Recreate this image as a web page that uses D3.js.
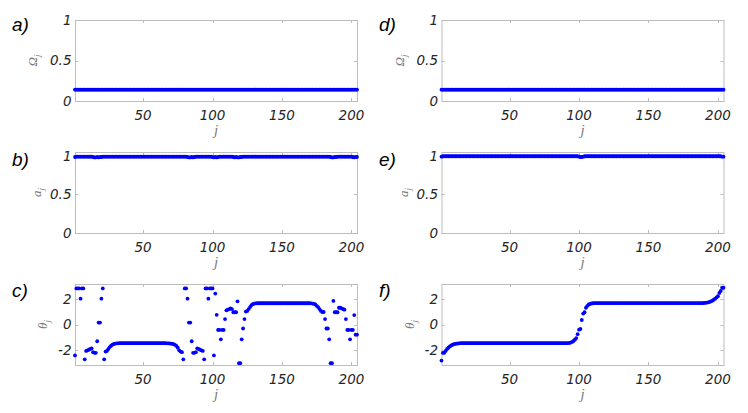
<!DOCTYPE html>
<html>
<head>
<meta charset="utf-8">
<script src="https://cdn.jsdelivr.net/npm/d3@7"></script>
<style>
  body { margin: 0; background: #fff; }
  svg { display: block; }
</style>
</head>
<body>
<svg id="chart"></svg>
<script>
// Values, one per site j = 1..204

// a) / d)  Omega_j
const omegaLeft = [
  0.14, 0.14, 0.14, 0.14, 0.14, 0.14, 0.14, 0.14, 0.14, 0.14, 0.14, 0.14,
  0.14, 0.14, 0.14, 0.14, 0.14, 0.14, 0.14, 0.14, 0.14, 0.14, 0.14, 0.14,
  0.14, 0.14, 0.14, 0.14, 0.14, 0.14, 0.14, 0.14, 0.14, 0.14, 0.14, 0.14,
  0.14, 0.14, 0.14, 0.14, 0.14, 0.14, 0.14, 0.14, 0.14, 0.14, 0.14, 0.14,
  0.14, 0.14, 0.14, 0.14, 0.14, 0.14, 0.14, 0.14, 0.14, 0.14, 0.14, 0.14,
  0.14, 0.14, 0.14, 0.14, 0.14, 0.14, 0.14, 0.14, 0.14, 0.14, 0.14, 0.14,
  0.14, 0.14, 0.14, 0.14, 0.14, 0.14, 0.14, 0.14, 0.14, 0.14, 0.14, 0.14,
  0.14, 0.14, 0.14, 0.14, 0.14, 0.14, 0.14, 0.14, 0.14, 0.14, 0.14, 0.14,
  0.14, 0.14, 0.14, 0.14, 0.14, 0.14, 0.14, 0.14, 0.14, 0.14, 0.14, 0.14,
  0.14, 0.14, 0.14, 0.14, 0.14, 0.14, 0.14, 0.14, 0.14, 0.14, 0.14, 0.14,
  0.14, 0.14, 0.14, 0.14, 0.14, 0.14, 0.14, 0.14, 0.14, 0.14, 0.14, 0.14,
  0.14, 0.14, 0.14, 0.14, 0.14, 0.14, 0.14, 0.14, 0.14, 0.14, 0.14, 0.14,
  0.14, 0.14, 0.14, 0.14, 0.14, 0.14, 0.14, 0.14, 0.14, 0.14, 0.14, 0.14,
  0.14, 0.14, 0.14, 0.14, 0.14, 0.14, 0.14, 0.14, 0.14, 0.14, 0.14, 0.14,
  0.14, 0.14, 0.14, 0.14, 0.14, 0.14, 0.14, 0.14, 0.14, 0.14, 0.14, 0.14,
  0.14, 0.14, 0.14, 0.14, 0.14, 0.14, 0.14, 0.14, 0.14, 0.14, 0.14, 0.14,
  0.14, 0.14, 0.14, 0.14, 0.14, 0.14, 0.14, 0.14, 0.14, 0.14, 0.14, 0.14
];
const omegaRight = [
  0.14, 0.14, 0.14, 0.14, 0.14, 0.14, 0.14, 0.14, 0.14, 0.14, 0.14, 0.14,
  0.14, 0.14, 0.14, 0.14, 0.14, 0.14, 0.14, 0.14, 0.14, 0.14, 0.14, 0.14,
  0.14, 0.14, 0.14, 0.14, 0.14, 0.14, 0.14, 0.14, 0.14, 0.14, 0.14, 0.14,
  0.14, 0.14, 0.14, 0.14, 0.14, 0.14, 0.14, 0.14, 0.14, 0.14, 0.14, 0.14,
  0.14, 0.14, 0.14, 0.14, 0.14, 0.14, 0.14, 0.14, 0.14, 0.14, 0.14, 0.14,
  0.14, 0.14, 0.14, 0.14, 0.14, 0.14, 0.14, 0.14, 0.14, 0.14, 0.14, 0.14,
  0.14, 0.14, 0.14, 0.14, 0.14, 0.14, 0.14, 0.14, 0.14, 0.14, 0.14, 0.14,
  0.14, 0.14, 0.14, 0.14, 0.14, 0.14, 0.14, 0.14, 0.14, 0.14, 0.14, 0.14,
  0.14, 0.14, 0.14, 0.14, 0.14, 0.14, 0.14, 0.14, 0.14, 0.14, 0.14, 0.14,
  0.14, 0.14, 0.14, 0.14, 0.14, 0.14, 0.14, 0.14, 0.14, 0.14, 0.14, 0.14,
  0.14, 0.14, 0.14, 0.14, 0.14, 0.14, 0.14, 0.14, 0.14, 0.14, 0.14, 0.14,
  0.14, 0.14, 0.14, 0.14, 0.14, 0.14, 0.14, 0.14, 0.14, 0.14, 0.14, 0.14,
  0.14, 0.14, 0.14, 0.14, 0.14, 0.14, 0.14, 0.14, 0.14, 0.14, 0.14, 0.14,
  0.14, 0.14, 0.14, 0.14, 0.14, 0.14, 0.14, 0.14, 0.14, 0.14, 0.14, 0.14,
  0.14, 0.14, 0.14, 0.14, 0.14, 0.14, 0.14, 0.14, 0.14, 0.14, 0.14, 0.14,
  0.14, 0.14, 0.14, 0.14, 0.14, 0.14, 0.14, 0.14, 0.14, 0.14, 0.14, 0.14,
  0.14, 0.14, 0.14, 0.14, 0.14, 0.14, 0.14, 0.14, 0.14, 0.14, 0.14, 0.14
];

// b) / e)  a_j
const aLeft = [
  0.985, 0.99, 0.99, 0.99, 0.99, 0.99, 0.99, 0.99, 0.99, 0.99,          // 1-10
  0.99, 0.99, 0.99, 0.985, 0.98, 0.98, 0.985, 0.98, 0.985, 0.985,       // 11-20
  0.99, 0.99, 0.99, 0.99, 0.99, 0.99, 0.99, 0.99, 0.99, 0.99,           // 21-30
  0.99, 0.99, 0.99, 0.99, 0.99, 0.99, 0.99, 0.99, 0.99, 0.99,           // 31-40
  0.99, 0.99, 0.99, 0.99, 0.99, 0.99, 0.99, 0.99, 0.99, 0.99,           // 41-50
  0.99, 0.99, 0.99, 0.99, 0.99, 0.99, 0.99, 0.99, 0.99, 0.99,           // 51-60
  0.99, 0.99, 0.99, 0.99, 0.99, 0.99, 0.99, 0.99, 0.99, 0.99,           // 61-70
  0.99, 0.99, 0.99, 0.99, 0.99, 0.99, 0.99, 0.99, 0.99, 0.99,           // 71-80
  0.99, 0.985, 0.98, 0.98, 0.985, 0.98, 0.985, 0.99, 0.99, 0.99,        // 81-90
  0.99, 0.99, 0.99, 0.99, 0.99, 0.99, 0.99, 0.99, 0.99, 0.985,          // 91-100
  0.98, 0.985, 0.98, 0.985, 0.99, 0.99, 0.99, 0.99, 0.99, 0.99,         // 101-110
  0.99, 0.99, 0.99, 0.99, 0.985, 0.98, 0.985, 0.98, 0.98, 0.985,        // 111-120
  0.985, 0.99, 0.99, 0.99, 0.99, 0.99, 0.99, 0.99, 0.99, 0.99,          // 121-130
  0.99, 0.99, 0.99, 0.99, 0.99, 0.99, 0.99, 0.99, 0.99, 0.99,           // 131-140
  0.99, 0.99, 0.99, 0.99, 0.99, 0.99, 0.99, 0.99, 0.99, 0.99,           // 141-150
  0.99, 0.99, 0.99, 0.99, 0.99, 0.99, 0.99, 0.99, 0.99, 0.99,           // 151-160
  0.99, 0.99, 0.99, 0.99, 0.99, 0.99, 0.99, 0.99, 0.99, 0.99,           // 161-170
  0.99, 0.99, 0.99, 0.99, 0.99, 0.99, 0.99, 0.99, 0.99, 0.99,           // 171-180
  0.99, 0.99, 0.99, 0.99, 0.985, 0.98, 0.98, 0.985, 0.985, 0.99,        // 181-190
  0.99, 0.99, 0.99, 0.99, 0.99, 0.99, 0.99, 0.99, 0.99, 0.99,           // 191-200
  0.985, 0.98, 0.985, 0.985                                             // 201-204
];
const aRight = [
  0.99, 0.995, 0.995, 0.995, 0.995, 0.995, 0.995, 0.995, 0.995, 0.995,  // 1-10
  0.995, 0.995, 0.995, 0.995, 0.995, 0.995, 0.995, 0.995, 0.995, 0.995,
  0.995, 0.995, 0.995, 0.995, 0.995, 0.995, 0.995, 0.995, 0.995, 0.995,
  0.995, 0.995, 0.995, 0.995, 0.995, 0.995, 0.995, 0.995, 0.995, 0.995,
  0.995, 0.995, 0.995, 0.995, 0.995, 0.995, 0.995, 0.995, 0.995, 0.995,
  0.995, 0.995, 0.995, 0.995, 0.995, 0.995, 0.995, 0.995, 0.995, 0.995,
  0.995, 0.995, 0.995, 0.995, 0.995, 0.995, 0.995, 0.995, 0.995, 0.995,
  0.995, 0.995, 0.995, 0.995, 0.995, 0.995, 0.995, 0.995, 0.995, 0.995,
  0.995, 0.995, 0.995, 0.995, 0.995, 0.995, 0.995, 0.995, 0.995, 0.995,
  0.995, 0.995, 0.995, 0.995, 0.995, 0.995, 0.995, 0.995, 0.995, 0.99,  // 91-100
  0.985, 0.985, 0.99, 0.995, 0.995, 0.995, 0.995, 0.995, 0.995, 0.995,  // 101-110
  0.995, 0.995, 0.995, 0.995, 0.995, 0.995, 0.995, 0.995, 0.995, 0.995,
  0.995, 0.995, 0.995, 0.995, 0.995, 0.995, 0.995, 0.995, 0.995, 0.995,
  0.995, 0.995, 0.995, 0.995, 0.995, 0.995, 0.995, 0.995, 0.995, 0.995,
  0.995, 0.995, 0.995, 0.995, 0.995, 0.995, 0.995, 0.995, 0.995, 0.995,
  0.995, 0.995, 0.995, 0.995, 0.995, 0.995, 0.995, 0.995, 0.995, 0.995,
  0.995, 0.995, 0.995, 0.995, 0.995, 0.995, 0.995, 0.995, 0.995, 0.995,
  0.995, 0.995, 0.995, 0.995, 0.995, 0.995, 0.995, 0.995, 0.995, 0.995,
  0.995, 0.995, 0.995, 0.995, 0.995, 0.995, 0.995, 0.995, 0.995, 0.995,
  0.995, 0.995, 0.995, 0.995, 0.995, 0.995, 0.995, 0.995, 0.995, 0.995, // 191-200
  0.995, 0.995, 0.99, 0.99                                              // 201-204
];

// c) / f)  theta_j
const thetaLeft = [
  -2.4, 2.8, 2.8, 2.8, 2.0, 2.8, 2.8, -2.7, -2.05, -2.0,                // 1-10
  -1.95, -1.9, -1.85, -2.15, -2.2, -2.2, -1.3, 0.15, 0.15, 2.0,         // 11-20
  2.8, -2.7, -2.1, -2.05, -1.9, -1.75, -1.65, -1.56, -1.51, -1.48,      // 21-30
  -1.47, -1.46, -1.45, -1.45, -1.45, -1.45, -1.45, -1.45, -1.45, -1.45, // 31-40
  -1.45, -1.45, -1.45, -1.45, -1.45, -1.45, -1.45, -1.45, -1.45, -1.45, // 41-50
  -1.45, -1.45, -1.45, -1.45, -1.45, -1.45, -1.45, -1.45, -1.45, -1.45, // 51-60
  -1.45, -1.45, -1.45, -1.45, -1.45, -1.45, -1.46, -1.46, -1.47, -1.48, // 61-70
  -1.5, -1.53, -1.58, -1.66, -1.8, -2.0, -2.1, -2.15, -2.7, 2.8,        // 71-80
  2.8, 2.0, 0.15, 0.15, -1.3, -2.2, -2.2, -2.15, -1.85, -1.9,           // 81-90
  -1.95, -2.0, -2.05, -2.7, 2.8, 2.8, 2.0, 2.8, 2.8, 2.8,               // 91-100
  -2.4, 2.4, 0.75, -0.42, -0.42, -1.15, -0.42, -0.42, 0.42, 1.1,        // 101-110
  1.15, 1.2, 1.25, 1.2, 0.95, 0.95, 0.95, 1.8, -3.0, -3.0,              // 111-120
  -1.15, -0.31, 0.42, 1.0, 1.05, 1.2, 1.35, 1.5, 1.58, 1.62,            // 121-130
  1.64, 1.65, 1.65, 1.65, 1.65, 1.65, 1.65, 1.65, 1.65, 1.65,           // 131-140
  1.65, 1.65, 1.65, 1.65, 1.65, 1.65, 1.65, 1.65, 1.65, 1.65,           // 141-150
  1.65, 1.65, 1.65, 1.65, 1.65, 1.65, 1.65, 1.65, 1.65, 1.65,           // 151-160
  1.65, 1.65, 1.65, 1.65, 1.65, 1.65, 1.65, 1.65, 1.65, 1.65,           // 161-170
  1.64, 1.62, 1.6, 1.55, 1.45, 1.35, 1.2, 1.05, 0.97, 0.97,             // 171-180
  0.42, -0.31, -0.31, -1.15, -3.0, -3.0, 1.83, 0.95, 0.95, 0.95,        // 181-190
  1.3, 1.3, 1.25, 1.2, 1.15, 0.42, -0.42, -0.42, -1.15, -0.42,          // 191-200
  -0.42, 0.73, -0.79, -0.79                                             // 201-204
];
const thetaRight = [
  -2.8, -2.2, -2.2, -2.05, -1.9, -1.8, -1.7, -1.62, -1.57, -1.53,       // 1-10
  -1.5, -1.48, -1.47, -1.46, -1.45, -1.45, -1.45, -1.45, -1.45, -1.45,  // 11-20
  -1.45, -1.45, -1.45, -1.45, -1.45, -1.45, -1.45, -1.45, -1.45, -1.45, // 21-30
  -1.45, -1.45, -1.45, -1.45, -1.45, -1.45, -1.45, -1.45, -1.45, -1.45, // 31-40
  -1.45, -1.45, -1.45, -1.45, -1.45, -1.45, -1.45, -1.45, -1.45, -1.45, // 41-50
  -1.45, -1.45, -1.45, -1.45, -1.45, -1.45, -1.45, -1.45, -1.45, -1.45, // 51-60
  -1.45, -1.45, -1.45, -1.45, -1.45, -1.45, -1.45, -1.45, -1.45, -1.45, // 61-70
  -1.45, -1.45, -1.45, -1.45, -1.45, -1.45, -1.45, -1.45, -1.45, -1.45, // 71-80
  -1.45, -1.45, -1.45, -1.45, -1.45, -1.45, -1.45, -1.45, -1.45, -1.45, // 81-90
  -1.45, -1.44, -1.43, -1.4, -1.35, -1.28, -1.18, -1.05, -0.75, -0.4,   // 91-100
  -0.35, 0.35, 0.85, 0.95, 1.3, 1.45, 1.55, 1.6, 1.63, 1.65,            // 101-110
  1.66, 1.66, 1.66, 1.66, 1.66, 1.66, 1.66, 1.66, 1.66, 1.66,           // 111-120
  1.66, 1.66, 1.66, 1.66, 1.66, 1.66, 1.66, 1.66, 1.66, 1.66,           // 121-130
  1.66, 1.66, 1.66, 1.66, 1.66, 1.66, 1.66, 1.66, 1.66, 1.66,           // 131-140
  1.66, 1.66, 1.66, 1.66, 1.66, 1.66, 1.66, 1.66, 1.66, 1.66,           // 141-150
  1.66, 1.66, 1.66, 1.66, 1.66, 1.66, 1.66, 1.66, 1.66, 1.66,           // 151-160
  1.66, 1.66, 1.66, 1.66, 1.66, 1.66, 1.66, 1.66, 1.66, 1.66,           // 161-170
  1.66, 1.66, 1.66, 1.66, 1.66, 1.66, 1.66, 1.66, 1.66, 1.66,           // 171-180
  1.66, 1.66, 1.66, 1.66, 1.66, 1.66, 1.66, 1.66, 1.66, 1.67,           // 181-190
  1.68, 1.7, 1.72, 1.75, 1.8, 1.85, 1.92, 2.0, 2.1, 2.2,                // 191-200
  2.45, 2.6, 2.85, 2.85                                                 // 201-204
];

const xTicks = [50, 100, 150, 200];
const unitTicks = [0, 0.5, 1];
const thetaTicks = [-2, 0, 2];
const panelLetters = ['a)', 'b)', 'c)', 'd)', 'e)', 'f)'];
const ySymbols = ['\u03A9', 'a', '\u03B8'];

(function() {

    const w = 748;
    const h = 413;

    const boxW = 282;
    const boxH = 81;
    const colLeft = [75, 441.5];
    const rowTop = [20, 152, 284];
    const letterX = [12, 379];
    const letterBase = [30.5, 166, 297];

    const blue = '#0000ff';
    const boxColor = '#bdbdbd';
    const tickText = '#262626';
    const labelColor = '#7a7a7a';
    const tickFont = 'DejaVu Sans, Verdana, sans-serif';
    const labelFont = 'Liberation Serif, Times New Roman, serif';

    const svg = d3.select('#chart')
        .attr('width', w)
        .attr('height', h);

    svg.append('rect')
        .attr('width', w)
        .attr('height', h)
        .attr('fill', '#fff');

    const rowSettings = [
        { domain: [0, 1], ticks: unitTicks, labelGap: 38 },
        { domain: [0, 1.05], ticks: unitTicks, labelGap: 34 },
        { domain: [-Math.PI, Math.PI], ticks: thetaTicks, labelGap: 28 }
    ];

    const panels = [
        { values: omegaLeft, col: 0, row: 0 },
        { values: aLeft, col: 0, row: 1 },
        { values: thetaLeft, col: 0, row: 2 },
        { values: omegaRight, col: 1, row: 0 },
        { values: aRight, col: 1, row: 1 },
        { values: thetaRight, col: 1, row: 2 }
    ];

    panels.forEach((p, k) => {

        const set = rowSettings[p.row];
        const x0 = colLeft[p.col];
        const y0 = rowTop[p.row];

        const scaleX = d3.scaleLinear().domain([1, 204]).range([x0, x0 + boxW]);
        const scaleY = d3.scaleLinear().domain(set.domain).range([y0 + boxH, y0]);

        const g = svg.append('g');

        // box
        g.append('rect')
            .attr('x', x0 + 0.5)
            .attr('y', y0 + 0.5)
            .attr('width', boxW)
            .attr('height', boxH)
            .attr('fill', 'none')
            .attr('stroke', boxColor);

        // inward ticks on all four sides
        xTicks.forEach(t => {
            const px = Math.round(scaleX(t)) + 0.5;
            g.append('line').attr('x1', px).attr('x2', px)
                .attr('y1', y0 + boxH).attr('y2', y0 + boxH - 3)
                .attr('stroke', boxColor);
            g.append('line').attr('x1', px).attr('x2', px)
                .attr('y1', y0).attr('y2', y0 + 3)
                .attr('stroke', boxColor);
        });
        set.ticks.forEach(t => {
            const py = Math.round(scaleY(t)) + 0.5;
            g.append('line').attr('x1', x0).attr('x2', x0 + 3)
                .attr('y1', py).attr('y2', py)
                .attr('stroke', boxColor);
            g.append('line').attr('x1', x0 + boxW).attr('x2', x0 + boxW - 3)
                .attr('y1', py).attr('y2', py)
                .attr('stroke', boxColor);
        });

        // tick labels
        g.selectAll('.xlab')
            .data(xTicks)
            .enter()
            .append('text')
            .attr('x', d => scaleX(d))
            .attr('y', y0 + boxH + 19)
            .attr('text-anchor', 'middle')
            .attr('font-family', tickFont)
            .attr('font-style', 'oblique')
            .attr('font-size', 13.5)
            .attr('fill', tickText)
            .text(d => d);

        g.selectAll('.ylab')
            .data(set.ticks)
            .enter()
            .append('text')
            .attr('x', x0 - 3.5)
            .attr('y', d => scaleY(d))
            .attr('dy', '0.36em')
            .attr('text-anchor', 'end')
            .attr('font-family', tickFont)
            .attr('font-style', 'oblique')
            .attr('font-size', 13.5)
            .attr('fill', tickText)
            .text(d => d);

        // axis titles
        g.append('text')
            .attr('x', x0 + boxW / 2)
            .attr('y', y0 + boxH + 34)
            .attr('text-anchor', 'middle')
            .attr('font-family', labelFont)
            .attr('font-style', 'italic')
            .attr('font-size', 15)
            .attr('fill', labelColor)
            .text('j');

        const yl = g.append('text')
            .attr('transform', `translate(${x0 - set.labelGap}, ${y0 + boxH / 2}) rotate(-90)`)
            .attr('text-anchor', 'middle')
            .attr('font-family', labelFont)
            .attr('font-style', 'italic')
            .attr('font-size', 13)
            .attr('fill', labelColor);
        yl.append('tspan').text(ySymbols[p.row]);
        yl.append('tspan')
            .attr('font-size', 9)
            .attr('dy', 3)
            .text('j');

        // panel letter
        g.append('text')
            .attr('x', letterX[p.col])
            .attr('y', letterBase[p.row])
            .attr('font-family', 'Liberation Sans, Arial, sans-serif')
            .attr('font-style', 'italic')
            .attr('font-size', 19)
            .attr('fill', '#000')
            .text(panelLetters[k]);

        // markers
        g.selectAll('.pt')
            .data(p.values)
            .enter()
            .append('circle')
            .attr('class', 'pt')
            .attr('cx', (d, i) => scaleX(i + 1))
            .attr('cy', d => scaleY(d))
            .attr('r', 1.9)
            .attr('fill', blue);

    });

})();
</script>
</body>
</html>
